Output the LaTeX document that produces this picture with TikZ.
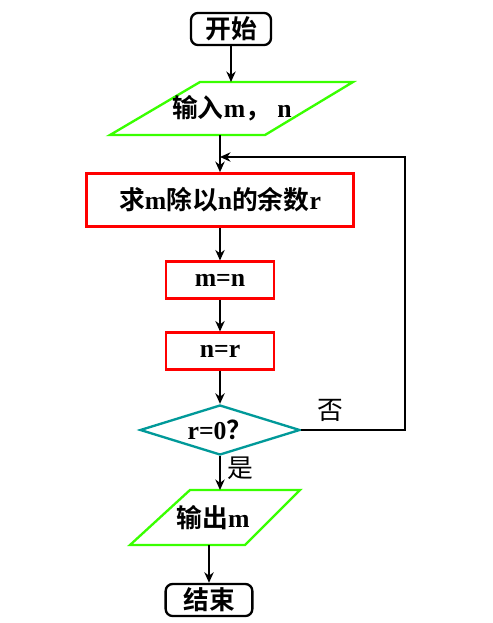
\documentclass[tikz,border=0pt]{standalone}
\usepackage{fontspec}
\setmainfont{Liberation Serif}
\newfontfamily\cjk{Noto Sans CJK SC}[BoldFont={* Bold}]
\usetikzlibrary{shapes.geometric,arrows.meta}
\begin{document}
\begin{tikzpicture}[x=0.03cm,y=-0.03cm,
  txt/.style={font=\fontsize{22}{26}\selectfont\bfseries},
  box/.style={draw=red,line width=2pt,minimum height=1.1cm},
  arr/.style={-{Stealth[length=9pt,width=8pt]},line width=1.8pt},
  para/.style={draw=green!70!lime,line width=2pt}]
\useasboundingbox (0,0) rectangle (492,623);
\node[draw,rounded corners=6pt,line width=2pt,minimum width=2.4cm,minimum height=0.95cm,txt] (start) at (231,29) {\cjk 开始};
\draw[para] (200,82)--(353,82)--(265,135)--(110,135)--cycle;
\node[txt] (in) at (232,108) {{\cjk 输入}m{\cjk ，} n};
\coordinate (inT) at (231,82); \coordinate (inB) at (220,135);
\node[box,minimum width=8cm,minimum height=1.6cm,txt] (rem) at (220,200) {{\cjk 求}m{\cjk 除以}n{\cjk 的余数}r};
\node[box,minimum width=3.25cm,txt] (mn) at (220,280) {m=n};
\node[box,minimum width=3.25cm,txt] (nr) at (220,351) {n=r};
\node[diamond,aspect=3.2,draw=teal!80!cyan,line width=2pt,inner sep=1pt,minimum width=4.8cm,minimum height=1.5cm,txt] (d) at (220,430) {r=0{\cjk ？}};
\draw[para] (190,490)--(300,490)--(245,545)--(130,545)--cycle;
\node[txt] (out) at (213,518) {{\cjk 输出}m};
\coordinate (outT) at (220,490); \coordinate (outB) at (209,545);
\node[draw,rounded corners=6pt,line width=2pt,minimum width=2.6cm,minimum height=0.95cm,txt] (end) at (209,600) {\cjk 结束};
\coordinate (lp1) at (405,430); \coordinate (lp2) at (405,157); \coordinate (lp3) at (220,157);
\draw[arr] (start.south) -- (inT);
\draw[arr] (inB) -- (rem.north);
\draw[arr] (rem.south) -- (mn.north);
\draw[arr] (mn.south) -- (nr.north);
\draw[arr] (nr.south) -- (d.north);
\draw[arr] (d.south) -- (outT);
\draw[arr] (outB) -- (end.north);
\draw[arr] (d.east) -- (lp1) -- (lp2) -- (lp3);
\node[font=\fontsize{22}{26}\selectfont\cjk] (no) at (330,410) {否};
\node[font=\fontsize{22}{26}\selectfont\cjk] (yes) at (240,468) {是};
\end{tikzpicture}
\end{document}
